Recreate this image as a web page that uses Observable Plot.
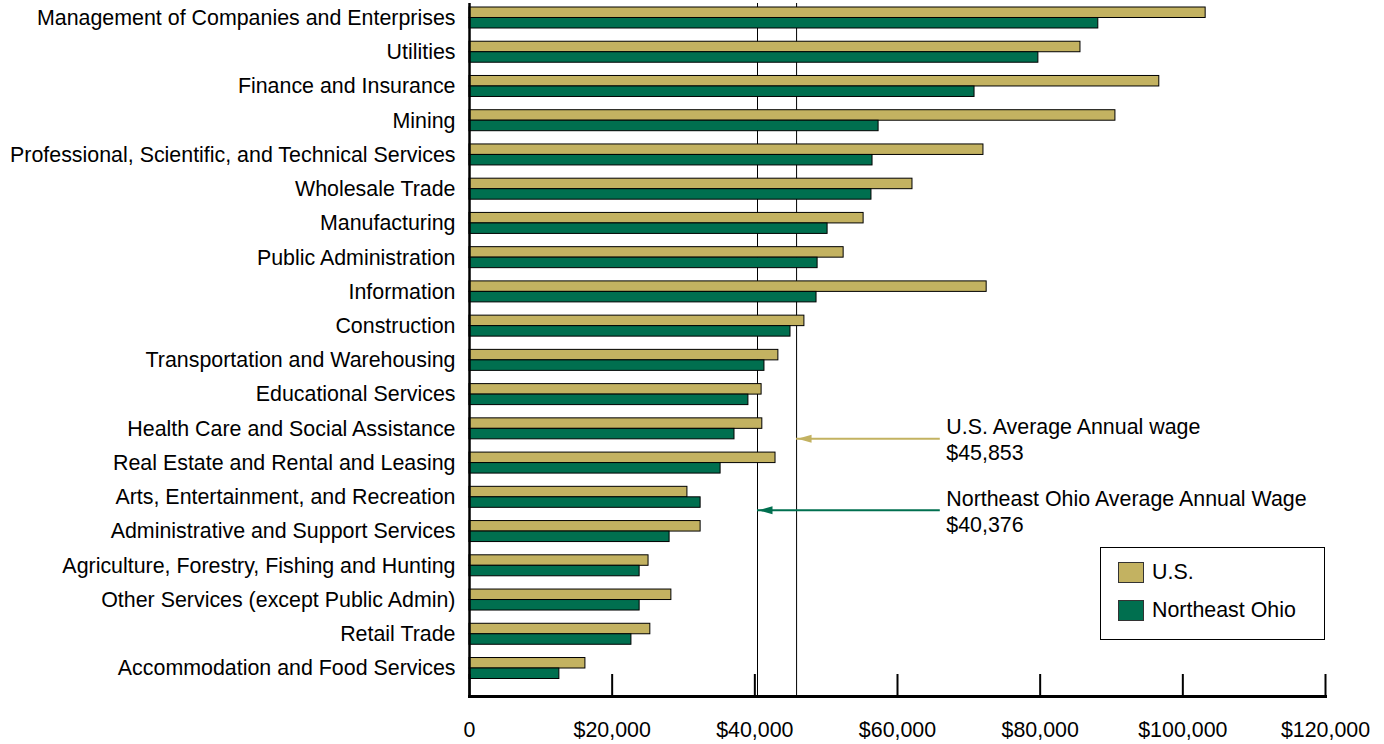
<!DOCTYPE html>
<html>
<head>
<meta charset="utf-8">
<script src="https://cdn.jsdelivr.net/npm/d3@7"></script>
<script src="https://cdn.jsdelivr.net/npm/@observablehq/plot@0.6"></script>
<style>
  body { margin: 0; background: #fff; font-family: Arial, "Liberation Sans", sans-serif; }
  #wrap { position: relative; width: 1384px; height: 744px; }
  .legend { position: absolute; left: 1100px; top: 547px; width: 225px; height: 93px;
            border: 1px solid #000; box-sizing: border-box; background: #fff; font-size: 21.4px; color: #000; }
  .legend .item { position: absolute; left: 17px; display: flex; align-items: center; height: 22px; }
  .legend .sw { width: 26px; height: 21px; border: 1px solid #333; box-sizing: border-box; margin-right: 8px; }
</style>
</head>
<body>
<div id="wrap"></div>
<script>
// Average annual wage by industry, U.S. vs. Northeast Ohio
const industries = [
  "Management of Companies and Enterprises",
  "Utilities",
  "Finance and Insurance",
  "Mining",
  "Professional, Scientific, and Technical Services",
  "Wholesale Trade",
  "Manufacturing",
  "Public Administration",
  "Information",
  "Construction",
  "Transportation and Warehousing",
  "Educational Services",
  "Health Care and Social Assistance",
  "Real Estate and Rental and Leasing",
  "Arts, Entertainment, and Recreation",
  "Administrative and Support Services",
  "Agriculture, Forestry, Fishing and Hunting",
  "Other Services (except Public Admin)",
  "Retail Trade",
  "Accommodation and Food Services"
];
const usWage = [103200, 85650, 96700, 90550, 72050, 62100, 55250, 52450, 72500, 46950,
                43300, 40950, 41050, 42900, 30550, 32400, 25100, 28300, 25350, 16250];
const neoWage = [88150, 79750, 70800, 57350, 56500, 56350, 50200, 48800, 48650, 45000,
                 41350, 39100, 37150, 35200, 32400, 28050, 23850, 23850, 22700, 12600];

const seriesNames = ["U.S.", "Northeast Ohio"];
const seriesColors = ["#C3B261", "#006F4F"];

// Average wage reference lines and their callouts
const avgWages = [45853, 40376];
const avgLabels = ["U.S. Average Annual wage\n$45,853", "Northeast Ohio Average Annual Wage\n$40,376"];
const avgRows = ["Health Care and Social Assistance", "Arts, Entertainment, and Recreation"];
const calloutFrom = 66000;

const xTicks = [0, 20000, 40000, 60000, 80000, 100000, 120000];

const rows = industries.map((industry, i) => ({industry, us: usWage[i], neo: neoWage[i]}));

const FONT = 21.4;

// band geometry: each industry band holds two stacked half-height bars
const Y_TOP = 7, Y_BOTTOM = 678.5, PAD = 0.387;
const step = (Y_BOTTOM - Y_TOP) / (industries.length - PAD);
const half = step * (1 - PAD) / 2;

// filled arrowhead pointing left, tip at the origin
const headLeft = {draw(ctx) { ctx.moveTo(0, 0); ctx.lineTo(14, -4); ctx.lineTo(14, 4); ctx.closePath(); }};

const calloutDy = [10, 13];
const callouts = avgWages.flatMap((w, i) => {
  const d = [{row: avgRows[i], wage: w, label: avgLabels[i]}];
  return [
    Plot.ruleY(d, {y: "row", x1: calloutFrom, x2: "wage", dy: calloutDy[i], stroke: seriesColors[i], strokeWidth: 2}),
    Plot.dot(d, {y: "row", x: "wage", dy: calloutDy[i], dx: 1, symbol: headLeft, fill: seriesColors[i], stroke: "none"}),
    Plot.text(d, {y: "row", x: calloutFrom, text: "label", dy: calloutDy[i], dx: 6, textAnchor: "start",
                  lineAnchor: "middle", lineHeight: 1.215, fontSize: FONT, fill: "#000"})
  ];
});

const chart = Plot.plot({
  width: 1384,
  height: 744,
  marginLeft: 469,
  marginRight: 59,
  marginTop: 3,
  marginBottom: 48,
  style: {fontFamily: "Arial, 'Liberation Sans', sans-serif", fontSize: FONT + "px", color: "#000", background: "#fff"},
  x: {domain: [0, 120000]},
  y: {domain: industries, range: [Y_TOP, Y_BOTTOM], paddingInner: PAD, paddingOuter: 0, round: false},
  marks: [
    Plot.ruleX(avgWages, {stroke: "#000", strokeWidth: 1}),
    Plot.barX(rows, {x: "us", y: "industry", fill: seriesColors[0], stroke: "#000", strokeWidth: 1, insetBottom: half}),
    Plot.barX(rows, {x: "neo", y: "industry", fill: seriesColors[1], stroke: "#000", strokeWidth: 1, insetTop: half}),
    Plot.ruleX([0], {stroke: "#000", strokeWidth: 2.5}),
    Plot.frame({anchor: "bottom", stroke: "#000", strokeWidth: 3}),
    Plot.axisY({tickSize: 0, tickPadding: 14, label: null, fontSize: FONT}),
    Plot.axisX({ticks: xTicks, tickSize: -22, strokeWidth: 2, text: null, label: null}),
    Plot.axisX({ticks: xTicks, tickSize: 0, tickPadding: 25, label: null, fontSize: FONT,
                tickFormat: d => d === 0 ? "0" : "$" + d3.format(",")(d)}),
    ...callouts
  ]
});

const wrap = document.getElementById("wrap");
wrap.appendChild(chart);

// legend box
const legend = document.createElement("div");
legend.className = "legend";
seriesNames.forEach((name, i) => {
  const item = document.createElement("div");
  item.className = "item";
  item.style.top = (13 + i * 38) + "px";
  const sw = document.createElement("span");
  sw.className = "sw";
  sw.style.background = seriesColors[i];
  const label = document.createElement("span");
  label.textContent = name;
  item.append(sw, label);
  legend.appendChild(item);
});
wrap.appendChild(legend);
</script>
</body>
</html>
